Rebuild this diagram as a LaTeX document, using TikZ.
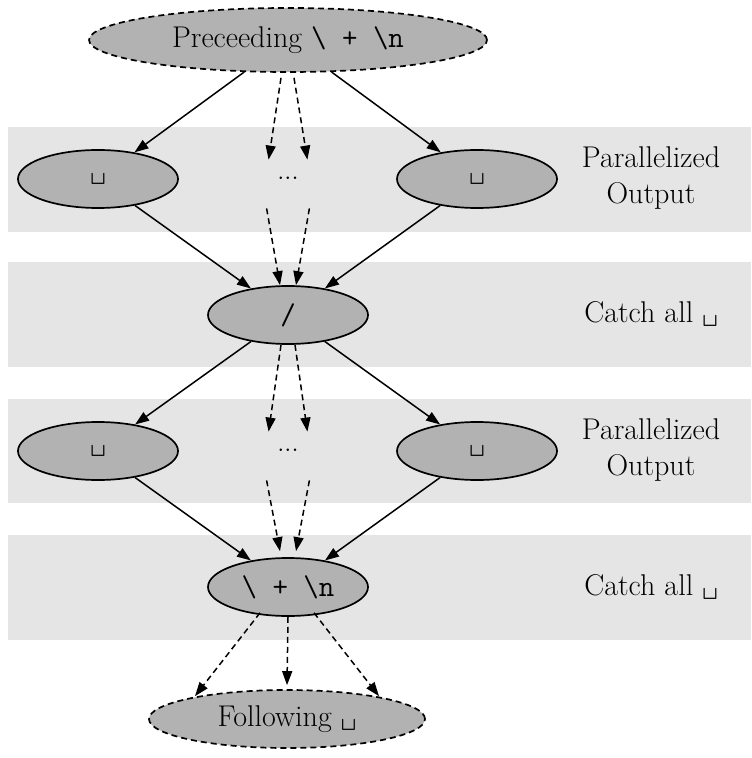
\documentclass[tikz,border=0pt]{standalone}
\usetikzlibrary{shapes.geometric,arrows.meta}
\definecolor{bandgray}{gray}{0.898}
\definecolor{nodegray}{gray}{0.70}
\tikzset{
  band/.style={fill=bandgray,draw=none},
  ell/.style={ellipse,draw=black,line width=0.85pt,fill=nodegray,inner sep=0pt,
     minimum width=80pt,minimum height=29pt,font=\fontsize{15}{17.5}\selectfont},
  dashell/.style={ell,dash pattern=on 3pt off 2pt},
  dotsnode/.style={inner sep=0pt,minimum width=19pt,minimum height=18pt,font=\fontsize{13}{15}\selectfont},
  lbl/.style={align=center,font=\fontsize{15}{18}\selectfont},
  edge/.style={line width=0.75pt,-{Triangle[length=7pt,width=5pt]}},
  dedge/.style={edge,dash pattern=on 3pt off 2pt}
}
\begin{document}
\begin{tikzpicture}[x=0.5pt,y=-0.5pt]
\useasboundingbox (0,0) rectangle (751,758);
% bands
\fill[band] (8,127) rectangle (751,232);
\fill[band] (8,262) rectangle (751,367);
\fill[band] (8,399) rectangle (751,503);
\fill[band] (8,535) rectangle (751,640);
% nodes
\node[dashell,minimum width=199pt,minimum height=32pt] (top) at (288,40) {Preceeding \texttt{\textbackslash{} + \textbackslash n}};
\node[ell] (l1) at (98,179) {\texttt{\textvisiblespace}};
\node[ell] (r1) at (477,179) {\texttt{\textvisiblespace}};
\node[dotsnode] (d1) at (288,178) {...};
\node[ell] (m) at (288,315) {\texttt{/}};
\node[ell] (l3) at (98,451) {\texttt{\textvisiblespace}};
\node[ell] (r3) at (477,451) {\texttt{\textvisiblespace}};
\node[dotsnode] (d3) at (288,450) {...};
\node[ell] (n) at (288,587) {\texttt{\textbackslash{} + \textbackslash n}};
\node[dashell,minimum width=138pt,minimum height=29pt] (fol) at (287,719) {Following \texttt{\textvisiblespace}};
% labels
\node[lbl] (p1) at (651,178) {Parallelized\\Output};
\node[lbl] (c1) at (651,314) {Catch all \texttt{\textvisiblespace}};
\node[lbl] (p3) at (651,450) {Parallelized\\Output};
\node[lbl] (c3) at (651,587) {Catch all \texttt{\textvisiblespace}};
% solid edges
\draw[edge] (top) -- (l1);
\draw[edge] (top) -- (r1);
\draw[edge] (l1) -- (m);
\draw[edge] (r1) -- (m);
\draw[edge] (m) -- (l3);
\draw[edge] (m) -- (r3);
\draw[edge] (l3) -- (n);
\draw[edge] (r3) -- (n);
% dashed edges via dots
\draw[dedge] ([xshift=-3.5pt,yshift=-2.5pt]top.south) -- (d1.north west);
\draw[dedge] ([xshift=3pt,yshift=-2.5pt]top.south) -- (d1.north east);
\draw[dedge] ([xshift=-1pt,yshift=-6pt]d1.south west) -- ([xshift=-4pt]m.north);
\draw[dedge] ([xshift=1pt,yshift=-6pt]d1.south east) -- ([xshift=4pt]m.north);
\draw[dedge] ([xshift=-3.5pt]m.south) -- (d3.north west);
\draw[dedge] ([xshift=3.5pt]m.south) -- (d3.north east);
\draw[dedge] ([xshift=-1pt,yshift=-6pt]d3.south west) -- ([xshift=-4pt,yshift=3pt]n.north);
\draw[dedge] ([xshift=1pt,yshift=-6pt]d3.south east) -- ([xshift=4pt,yshift=3pt]n.north);
% dashed edges to following
\draw[dedge] ([xshift=-14pt,yshift=2pt]n.south) -- ([xshift=-46pt,yshift=-3.5pt]fol.north);
\draw[dedge] (n.south) -- ([yshift=2pt]fol.north);
\draw[dedge] ([xshift=13pt,yshift=2pt]n.south) -- ([xshift=46pt,yshift=-3.5pt]fol.north);
\end{tikzpicture}
\end{document}
